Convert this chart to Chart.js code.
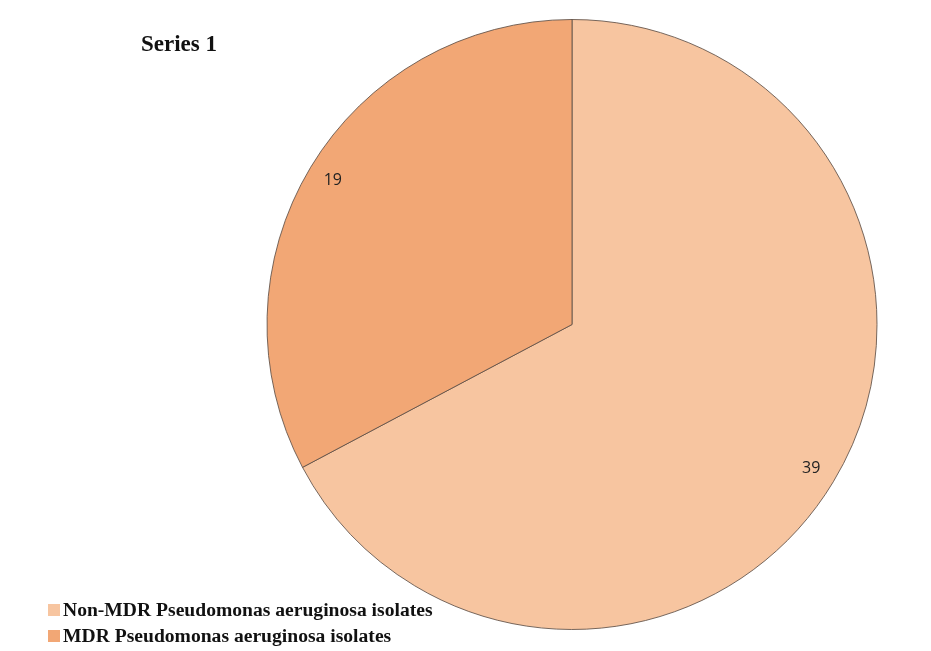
<!DOCTYPE html>
<html>
<head>
<meta charset="utf-8">
<script src="https://cdn.jsdelivr.net/npm/chart.js@4.4.0/dist/chart.umd.min.js"></script>
<style>
  html, body { margin: 0; padding: 0; background: #ffffff; }
  #wrap { position: relative; width: 931px; height: 651px; overflow: hidden; }
  #c { position: absolute; left: 0; top: 0; }
  #title { position: absolute; left: 141px; top: 31px; font-family: "Liberation Serif", serif; font-weight: bold; font-size: 23px; color: #111; white-space: nowrap; }
  .leg { position: absolute; left: 48px; font-family: "Liberation Serif", serif; font-weight: bold; font-size: 19.6px; color: #111; white-space: nowrap; line-height: 20px; }
  .leg span.box { display: inline-block; width: 12px; height: 12px; margin-right: 3px; vertical-align: 0px; }
</style>
</head>
<body>
<div id="wrap">
  <canvas id="c" width="931" height="651"></canvas>
  <div id="title"></div>
  <div id="legend"></div>
</div>
<script>
const seriesName = "Series 1";
const categories = ["Non-MDR Pseudomonas aeruginosa isolates", "MDR Pseudomonas aeruginosa isolates"];
const values = [39, 19];
const colors = ["#F7C5A0", "#F2A775"];

document.getElementById('title').textContent = seriesName;
const legendEl = document.getElementById('legend');
categories.forEach((name, i) => {
  const d = document.createElement('div');
  d.className = 'leg';
  d.style.top = (600 + i * 26) + 'px';
  const b = document.createElement('span');
  b.className = 'box';
  b.style.background = colors[i];
  d.appendChild(b);
  d.appendChild(document.createTextNode(name));
  legendEl.appendChild(d);
});

const labelPlugin = {
  id: 'sliceLabels',
  afterDatasetsDraw(chart) {
    const ctx = chart.ctx;
    const meta = chart.getDatasetMeta(0);
    ctx.save();
    ctx.font = '16px "Open Sans", sans-serif';
    ctx.fillStyle = '#222';
    ctx.textAlign = 'center';
    ctx.textBaseline = 'middle';
    meta.data.forEach((arc, i) => {
      const mid = (arc.startAngle + arc.endAngle) / 2;
      const r = arc.outerRadius * 0.915;
      ctx.fillText(String(values[i]), arc.x + Math.cos(mid) * r, arc.y + Math.sin(mid) * r);
    });
    ctx.restore();
  }
};

new Chart(document.getElementById('c'), {
  type: 'pie',
  data: {
    labels: categories,
    datasets: [{
      label: seriesName,
      data: values,
      backgroundColor: colors,
      borderColor: 'rgba(95,80,70,0.85)',
      borderWidth: 1
    }]
  },
  options: {
    responsive: false,
    animation: false,
    layout: { padding: { left: 266, right: 53, top: 19, bottom: 21 } },
    plugins: { legend: { display: false }, title: { display: false }, tooltip: { enabled: false } }
  },
  plugins: [labelPlugin]
});
</script>
</body>
</html>
